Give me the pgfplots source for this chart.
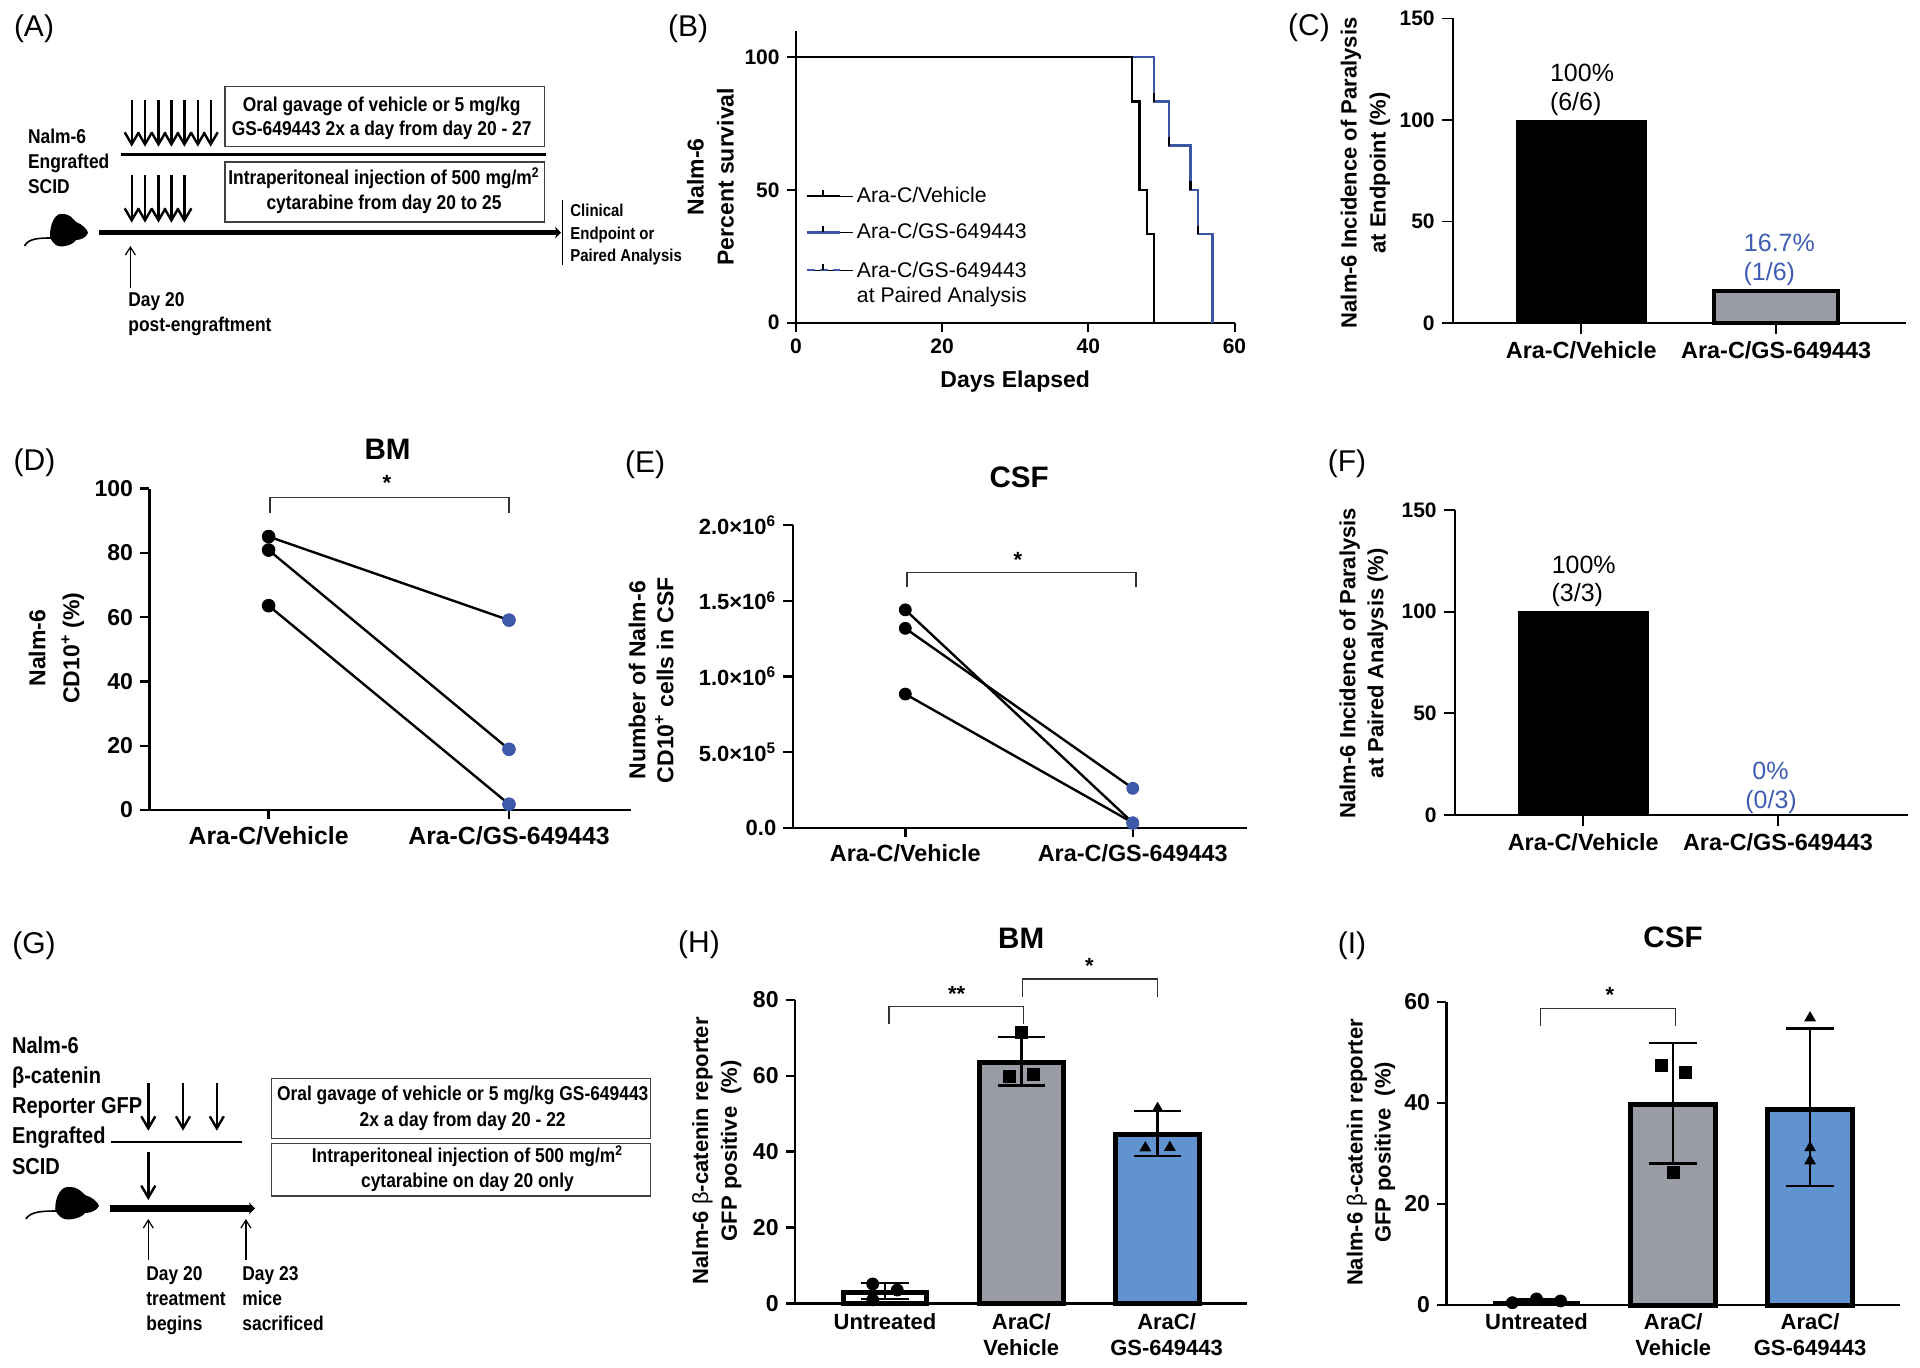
\documentclass[border=0pt]{standalone}
\usepackage{fontspec}
\usepackage{pgfplots}
\pgfplotsset{compat=1.18}
\usetikzlibrary{arrows.meta}
\setmainfont{Liberation Sans}
\newfontfamily\schem[FakeStretch=0.87]{Liberation Sans}
\definecolor{kmblue}{HTML}{3A56A5}
\definecolor{dotblue}{HTML}{3C5AA8}
\definecolor{lblblue}{HTML}{3F5DB3}
\definecolor{bargrey}{HTML}{999CA4}
\definecolor{barblue}{HTML}{6093D0}
\newcommand\fs[2]{\fontsize{#1}{#2}\selectfont}
% all panels are placed in reference pixels, 1px = 0.5pt
\pgfplotsset{
  every axis title shift=0pt,
  panel/.style n args={4}{scale only axis, width=#3*0.5pt, height=#4*0.5pt,
    at={({#1*0.5pt},{(1367-#2)*0.5pt})}, anchor=south west,
    axis lines=left, axis line style={-,black,line width=1.2pt},
    tick align=outside, tick style={black,line width=1.2pt}, major tick length=4.7pt,
    /pgf/number format/assume math mode=true, clip=false, ymin=0,
    scaled y ticks=false},
  ylab/.style 2 args={ylabel style={at={(axis description cs:#1,#2)},anchor=center,align=center,
    font=\bfseries\fs{11.5}{15}}},
  ttl/.style 2 args={title style={at={(axis description cs:#1,#2)},anchor=center,
    font=\bfseries\fs{14.8}{16}}},
  ticks/.style 2 args={xticklabel style={font=\bfseries\fs{#1}{13},align=center},
    yticklabel style={font=\bfseries\fs{#2}{13}}},
  hbar/.style n args={3}{ybar,bar shift=0pt,bar width=#1,fill=#2,draw=black,line width=#3,forget plot},
  errb/.style={draw=none,forget plot,error bars/.cd,y dir=both,y explicit,
    error bar style={black,line width=1.2pt},
    error mark options={black,line width=1.2pt,mark size=#1,rotate=90}},
  pts/.style={only marks,black,mark=#1,mark size=3pt,forget plot},
}
\newcommand\mouse[3]{% x, y of body centre, x scale
  \begin{scope}[shift={(#1,#2)},xscale=#3]
    \fill[black] (-18.5,6) .. controls (-18.5,-8) and (-12.5,-17) .. (-6.5,-16)
      .. controls (1.5,-16) and (3.5,-12) .. (7.5,-8)
      .. controls (13.5,-6) and (19.5,0) .. (19.5,3)
      .. controls (17.5,8) and (11.5,10) .. (7.5,10)
      .. controls (3.5,16) and (-8.5,18) .. (-12.5,15) .. controls (-15,13) and (-18,10) .. (-18.5,6);
    \draw[black,line width=.8pt] (-16,8) .. controls (-28,8) and (-40,8) .. (-44,16);
  \end{scope}}
\begin{document}
\begin{tikzpicture}
\useasboundingbox (0,0) rectangle (960pt,683.5pt);

% (B) survival
\begin{axis}[panel={796}{322.7}{438.5}{292}, ticks={10.5}{10.5},
  axis line style={-,black,line width=1pt}, tick style={black,line width=1pt},
  xmin=0,xmax=60,ymax=110,xtick={0,20,40,60},ytick={0,50,100},
  xlabel={Days Elapsed},ylabel={Nalm-6\\Percent survival},ylab={-0.195}{0.5},
  xlabel style={at={(axis description cs:0.5,-0.2)},anchor=center,font=\bfseries\fs{11.5}{14}},
  legend style={at={(0.02,0.48)},anchor=north west,draw=none,fill=none,
    font=\fs{10.6}{13},row sep=5pt,inner sep=0pt},legend cell align=left]
  \addplot[kmblue,line width=1.2pt,forget plot] coordinates {
    (0,100)(49,100)(49,83.3)(51,83.3)(51,66.7)(54,66.7)(54,50)(55,50)(55,33.3)(57,33.3)(57,0)};
  \addplot[black,line width=1.2pt,forget plot] coordinates {
    (0,100)(46,100)(46,83.3)(47,83.3)(47,50)(48,50)(48,33.3)(49,33.3)(49,0)};
  \addplot[black,line width=1.2pt,forget plot,unbounded coords=jump] coordinates {
    (49,86.5)(49,83.3)(49,nan)(51,70)(51,66.7)(51,nan)(54,53.5)(54,50)(54,nan)(55,36.5)(55,33.3)};
  \addlegendimage{legend image code/.code={\path (0,0)--(23pt,0);
    \draw[black,line width=1pt] (0,0)--(16.5pt,0); \draw[black,line width=.8pt] (8.2pt,0)--(8.2pt,3pt);}}
  \addlegendentry{Ara-C/Vehicle}
  \addlegendimage{legend image code/.code={\path (0,0)--(23pt,0);
    \draw[kmblue,line width=1.4pt] (0,0)--(16.5pt,0); \draw[black,line width=.8pt] (8.2pt,0)--(8.2pt,3pt);}}
  \addlegendentry{Ara-C/GS-649443}
  \addlegendimage{legend image code/.code={\path (0,0)--(23pt,0);
    \draw[kmblue,line width=1pt,dash pattern=on 4pt off 2.5pt] (0,0)--(16.5pt,0); \draw[black,line width=.8pt] (8.2pt,0)--(8.2pt,3pt);}}
  \addlegendentry{\begin{tabular}[t]{@{}l@{}}Ara-C/GS-649443\\[-0.6pt]at Paired Analysis\end{tabular}}
\end{axis}

% (C) paralysis at endpoint
\begin{axis}[panel={1452.7}{323}{452.8}{304.5}, ticks={11.7}{10.5},
  axis line style={-,black,line width=.9pt}, tick style={black,line width=.9pt}, major tick length=5.5pt,
  xmin=-0.66,xmax=1.664,ymax=150,xtick={0,1},xticklabels={Ara-C/Vehicle,Ara-C/GS-649443},ytick={0,50,100,150},
  ylabel={Nalm-6 Incidence of Paralysis\\at Endpoint (\%)},ylab={-0.193}{0.493},
  ylabel style={font=\bfseries\fs{11}{14.5}}]
  \addplot[hbar={0.666}{black}{0.3pt}] coordinates {(0,100)};
  \addplot[hbar={0.635}{bargrey}{2pt}] coordinates {(1,15.9)};
\end{axis}

% (D) BM paired
\begin{axis}[panel={149.4}{810}{481.2}{321.3}, ticks={12.4}{11.5},
  xmin=-0.496,xmax=1.506,ymax=100,xtick={0,1},xticklabels={Ara-C/Vehicle,Ara-C/GS-649443},
  ytick={0,20,40,60,80,100},
  ylabel={Nalm-6\\CD10\textsuperscript{+} (\%)},ylab={-0.193}{0.504},
  ylabel style={font=\bfseries\fs{11.5}{17}},
  title={BM},ttl={0.495}{1.1235}]
  \addplot[black,line width=1.2pt] coordinates {(0,85.1)(1,59.1)};
  \addplot[black,line width=1.2pt] coordinates {(0,80.9)(1,18.9)};
  \addplot[black,line width=1.2pt] coordinates {(0,63.6)(1,1.8)};
  \addplot[only marks,mark=*,black,mark size=3.2pt] coordinates {(0,85.1)(0,80.9)(0,63.6)};
  \addplot[only marks,mark=*,dotblue,mark size=3.2pt] coordinates {(1,59.1)(1,18.9)(1,1.8)};
\end{axis}

% (E) CSF paired
\begin{axis}[panel={792.7}{828}{453.8}{303}, ticks={11.7}{11},
  xmin=-0.495,xmax=1.5,ymax=2000000,xtick={0,1},xticklabels={Ara-C/Vehicle,Ara-C/GS-649443},
  ytick={0,500000,1000000,1500000,2000000},
  yticklabels={0.0,5.0×10\textsuperscript{5},1.0×10\textsuperscript{6},1.5×10\textsuperscript{6},2.0×10\textsuperscript{6}},
  ylabel={Number of Nalm-6\\CD10\textsuperscript{+} cells in CSF},ylab={-0.312}{0.488},
  ylabel style={font=\bfseries\fs{11.5}{14}},
  title={CSF},ttl={0.499}{1.158}]
  \addplot[black,line width=1.2pt] coordinates {(0,1440000)(1,35000)};
  \addplot[black,line width=1.2pt] coordinates {(0,1318000)(1,262000)};
  \addplot[black,line width=1.2pt] coordinates {(0,884000)(1,35000)};
  \addplot[only marks,mark=*,black,mark size=3pt] coordinates {(0,1440000)(0,1318000)(0,884000)};
  \addplot[only marks,mark=*,dotblue,mark size=3pt] coordinates {(1,262000)(1,35000)(1,30000)};
\end{axis}

% (F) paralysis at paired analysis
\begin{axis}[panel={1454.7}{815}{453.3}{305}, ticks={11.7}{10.5},
  axis line style={-,black,line width=.9pt}, tick style={black,line width=.9pt}, major tick length=5.5pt,
  xmin=-0.66,xmax=1.668,ymax=150,xtick={0,1},xticklabels={Ara-C/Vehicle,Ara-C/GS-649443},ytick={0,50,100,150},
  ylabel={Nalm-6 Incidence of Paralysis\\at Paired Analysis (\%)},ylab={-0.201}{0.498},
  ylabel style={font=\bfseries\fs{11}{14}}]
  \addplot[hbar={0.666}{black}{0.3pt}] coordinates {(0,100)};
  \addplot[ybar,bar shift=0pt,bar width=0.635,draw=none,fill=none,forget plot] coordinates {(1,0)};
\end{axis}

% (H) BM reporter
\begin{axis}[panel={795}{1303.3}{452.3}{303.3}, ticks={11}{11.5},
  xmin=-0.66,xmax=2.658,ymax=80,xtick={0,1,2},x tick style={draw=none},
  xticklabel style={yshift=3pt},
  xticklabels={Untreated,{AraC/\\Vehicle},{\hspace*{9pt}AraC/\\\hspace*{9pt}GS-649443}},ytick={0,20,40,60,80},
  ylabel={Nalm-6 {\mdseries β}-catenin reporter\\GFP positive\ \ (\%)},ylab={-0.173}{0.503},
  ylabel style={font=\bfseries\fs{11}{14.3}},
  title={BM},ttl={0.5}{1.204}]
  \addplot[hbar={0.612}{white}{2.5pt}] coordinates {(0,2.8)};
  \addplot[hbar={0.612}{bargrey}{2.5pt}] coordinates {(1,63.4)};
  \addplot[hbar={0.612}{barblue}{2.5pt}] coordinates {(2,44.5)};
  \addplot[errb=11.8pt] coordinates {(0,3.2) +- (0,2.1) (1,63.85) +- (0,6.45) (2,44.85) +- (0,5.95)};
  \addplot[pts=*] coordinates {(-0.09,5.1)(0.09,3.5)(-0.09,0.9)};
  \addplot[pts=square*] coordinates {(1,71.4)(0.91,59.8)(1.09,60.5)};
  \addplot[pts=triangle*] coordinates {(2,51.4)(1.91,41)(2.09,41.1)};
\end{axis}

% (I) CSF reporter
\begin{axis}[panel={1446.3}{1305}{453.5}{303.3}, ticks={11}{11.5},
  xmin=-0.659,xmax=2.656,ymax=60,xtick={0,1,2},x tick style={draw=none},
  xticklabel style={yshift=4pt},
  xticklabels={Untreated,{AraC/\\Vehicle},{AraC/\\GS-649443}},ytick={0,20,40,60},
  ylabel={Nalm-6 {\mdseries β}-catenin reporter\\GFP positive\ \ (\%)},ylab={-0.166}{0.503},
  ylabel style={font=\bfseries\fs{11}{14}},
  title={CSF},ttl={0.5}{1.213}]
  \addplot[hbar={0.624}{white}{1.2pt}] coordinates {(0,0.5)};
  \addplot[hbar={0.624}{bargrey}{2.5pt}] coordinates {(1,39.6)};
  \addplot[hbar={0.624}{barblue}{2.5pt}] coordinates {(2,38.7)};
  \addplot[errb=12pt] coordinates {(0,0.65) +- (0,0.45) (1,39.9) +- (0,11.9) (2,39.1) +- (0,15.6)};
  \addplot[pts=*] coordinates {(-0.176,0.46)(0,1.2)(0.176,0.8)};
  \addplot[pts=square*] coordinates {(0.91,47.4)(1.09,46.1)(1,26.2)};
  \addplot[pts=triangle*] coordinates {(2,56.8)(2,31.1)(2,28.5)};
\end{axis}

% schematics, brackets and panel letters, in reference pixels
\begin{scope}[x=0.5pt,y=-0.5pt,yshift=683.5pt,
  lett/.style={font=\fs{15}{17},inner sep=0pt},
  sch/.style={font=\schem\bfseries\fs{10}{12},inner sep=0pt,anchor=mid},
  schl/.style={font=\schem\bfseries\fs{10}{12},inner sep=0pt,anchor=mid west},
  box/.style={draw=black!75,line width=.8pt},
  dn/.style={-{Straight Barb[length=6pt,width=7pt]},line width=1.2pt},
  up/.style={-{Straight Barb[length=4pt,width=5pt]},line width=.6pt},
  brk/.style={draw=black!80,line width=.55pt},
  star/.style={font=\bfseries\fs{11}{12},inner sep=0pt},
  val/.style={font=\fs{12.5}{14},inner sep=0pt}]

  \node[lett] at (34,29) {(A)};
  \node[lett] at (688,29) {(B)};
  \node[lett] at (1309,28) {(C)};
  \node[lett] at (34.5,463) {(D)};
  \node[lett] at (645,465) {(E)};
  \node[lett] at (1347,463.5) {(F)};
  \node[lett] at (34,946) {(G)};
  \node[lett] at (699,945) {(H)};
  \node[lett] at (1352,946) {(I)};

  % bar value labels
  \node[val] at (1582,73) {100\%};
  \node[val] at (1575.7,104) {(6/6)};
  \node[val,lblblue] at (1779.4,242.7) {16.7\%};
  \node[val,lblblue] at (1769.3,273.6) {(1/6)};
  \node[val] at (1583.7,564.6) {100\%};
  \node[val] at (1577.3,595.5) {(3/3)};
  \node[val,lblblue] at (1770.5,770.8) {0\%};
  \node[val,lblblue] at (1771,801.7) {(0/3)};

  % significance brackets
  \draw[brk] (270,512.7)--(270,497.3)--(509,497.3)--(509,512.7);
  \node[star] at (387,483) {*};
  \draw[brk] (907,587.3)--(907,572.3)--(1136,572.3)--(1136,587.3);
  \node[star] at (1018,560) {*};
  \draw[brk] (889,1024.3)--(889,1006.7)--(1023.7,1006.7)--(1023.7,1024.3);
  \node[star] at (956.7,994) {**};
  \draw[brk] (1022.9,996.7)--(1022.9,979)--(1157.6,979)--(1157.6,996.7);
  \node[star] at (1089.4,966) {*};
  \draw[brk] (1540.4,1026)--(1540.4,1008.3)--(1675.9,1008.3)--(1675.9,1026);
  \node[star] at (1610,995) {*};

  % (A)
  \draw[box] (225,86.7) rectangle (544.6,146.7);
  \draw[box] (225,162.3) rectangle (544.6,222.3);
  \node[sch] at (381.7,106.7) {Oral gavage of vehicle or 5 mg/kg};
  \node[sch] at (381.7,130.7) {GS-649443 2x a day from day 20 - 27};
  \node[sch] at (384,179.3) {Intraperitoneal injection of 500 mg/m\textsuperscript{2}};
  \node[sch] at (384,204.3) {cytarabine from day 20 to 25};
  \draw[line width=1.5pt] (121,154.3)--(545.5,154.3);
  \draw[line width=2.5pt,-{Stealth[length=3pt,width=6pt]}] (99,232.7)--(561,232.7);
  \draw[line width=.8pt] (562.5,200)--(562.5,265);
  \foreach \x in {131.7,145,158.5,171.4,184.4,197.8,210.7}
    \draw[dn] (\x,100)--(\x,146.7);
  \foreach \x in {131.7,145,158.5,171.4,184.4}
    \draw[dn] (\x,175)--(\x,222.7);
  \draw[up] (130.4,288.3)--(130.4,246);
  \node[schl] at (27.7,138.3) {Nalm-6};
  \node[schl] at (27.7,163.3) {Engrafted};
  \node[schl] at (27.7,188.3) {SCID};
  \node[schl,font=\schem\bfseries\fs{8.6}{10}] at (570,211.7) {Clinical};
  \node[schl,font=\schem\bfseries\fs{8.6}{10}] at (570,234.3) {Endpoint or};
  \node[schl,font=\schem\bfseries\fs{8.6}{10}] at (570,256.7) {Paired Analysis};
  \node[schl] at (128,301.7) {Day 20};
  \node[schl] at (128,326.7) {post-engraftment};
  \mouse{68.5}{230}{1}

  % (G)
  \draw[box] (271.5,1078.3) rectangle (650.5,1138.3);
  \draw[box] (271.5,1143.3) rectangle (650.5,1195.7);
  \node[sch] at (462.7,1095.7) {Oral gavage of vehicle or 5 mg/kg GS-649443};
  \node[sch] at (462.7,1121.7) {2x a day from day 20 - 22};
  \node[sch] at (467.5,1157.3) {Intraperitoneal injection of 500 mg/m\textsuperscript{2}};
  \node[sch] at (467.5,1182.3) {cytarabine on day 20 only};
  \foreach \x in {148.3,183,216.8}
    \draw[dn] (\x,1083.3)--(\x,1130.7);
  \draw[line width=1pt] (110.6,1141.7)--(241.5,1141.7);
  \draw[dn] (148.3,1152.3)--(148.3,1200);
  \draw[line width=3.5pt,-{Stealth[length=3pt,width=6pt]}] (109.7,1208.3)--(255,1208.3);
  \draw[up] (148.3,1260)--(148.3,1219);
  \draw[up] (245.9,1260)--(245.9,1219);
  \foreach \y/\t in {1048/Nalm-6,1078/β-catenin,1108/Reporter GFP,1138/Engrafted,1169/SCID}
    \node[schl,font=\schem\bfseries\fs{11.5}{13}] at (11.7,\y) {\t};
  \foreach \y/\t in {1275/Day 20,1300.7/treatment,1325.7/begins}
    \node[schl] at (146,\y) {\t};
  \foreach \y/\t in {1275/Day 23,1300.7/mice,1325.7/sacrificed}
    \node[schl] at (242,\y) {\t};
  \mouse{76.5}{1203}{1.15}
\end{scope}
\end{tikzpicture}
\end{document}
